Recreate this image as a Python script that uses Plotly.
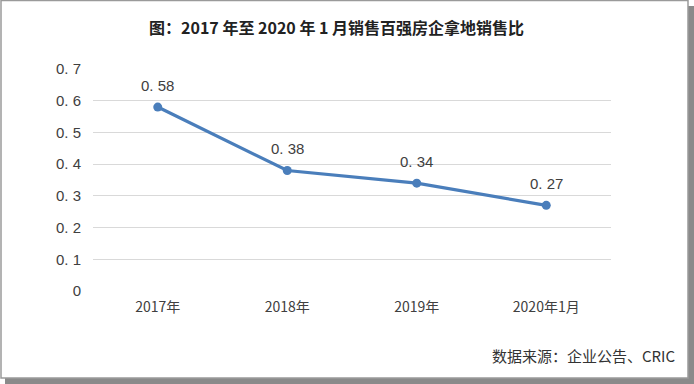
import plotly.graph_objects as go

categories = ["2017年", "2018年", "2019年", "2020年1月"]
values = [0.58, 0.38, 0.34, 0.27]
y_ticks = [0, 0.1, 0.2, 0.3, 0.4, 0.5, 0.6, 0.7]
y_tick_labels = ["0", "0. 1", "0. 2", "0. 3", "0. 4", "0. 5", "0. 6", "0. 7"]
label_text = ["0. " + f"{v:.2f}".split(".")[1] for v in values]
title_text = "图：2017 年至 2020 年 1 月销售百强房企拿地销售比"
source_text = "数据来源：企业公告、CRIC"

W, H = 694, 384
L, R, T, B = 93, 83, 69, 93
pw, ph = W - L - R, H - T - B

def px(x):
    return (x - L) / pw

def py(y):
    return (H - B - y) / ph

font_family = "Noto Sans CJK SC, Noto Sans, sans-serif"
num_family = "Liberation Sans, Arial, sans-serif"
blue = "#4a7ebb"

fig = go.Figure()
fig.add_trace(go.Scatter(
    x=categories, y=values, mode="lines+markers",
    line=dict(color=blue, width=3.2),
    marker=dict(color=blue, size=9),
    cliponaxis=False, showlegend=False, hoverinfo="skip",
))

annotations = [
    dict(x=c, y=v, text=t, xref="x", yref="y", showarrow=False,
         yshift=22, xanchor="center", yanchor="middle",
         font=dict(size=15, color="#404040", family=num_family))
    for c, v, t in zip(categories, values, label_text)
]
annotations += [
    dict(text="<b>" + title_text + "</b>", xref="paper", yref="paper",
         x=px(336), y=py(27), xanchor="center", yanchor="middle",
         showarrow=False, font=dict(size=16, color="#222222", family=font_family)),
    dict(text=source_text, xref="paper", yref="paper",
         x=px(677), y=py(355), xanchor="right", yanchor="middle",
         showarrow=False, font=dict(size=15, color="#333333", family=font_family)),
]

shapes = [
    dict(type="rect", xref="paper", yref="paper", layer="below",
         x0=px(5), x1=px(694), y0=py(6), y1=py(384),
         fillcolor="#8a8a8a", line=dict(width=0)),
    dict(type="rect", xref="paper", yref="paper", layer="below",
         x0=px(1), x1=px(688), y0=py(0.5), y1=py(378),
         fillcolor="white", line=dict(color="#9a9a9a", width=1.5)),
]

fig.update_layout(
    width=W, height=H,
    margin=dict(l=L, r=R, t=T, b=B),
    paper_bgcolor="white", plot_bgcolor="rgba(0,0,0,0)",
    shapes=shapes,
    annotations=annotations,
    font=dict(family=font_family, color="#404040"),
    xaxis=dict(
        type="category", range=[-0.5, 3.5], showgrid=False, zeroline=False,
        showline=False, ticks="", tickfont=dict(size=14, color="#404040"),
        ticklabelstandoff=6, fixedrange=True,
    ),
    yaxis=dict(
        range=[0, 0.7], tickvals=y_ticks, ticktext=y_tick_labels,
        showgrid=True, gridcolor="#d9d9d9", gridwidth=1, zeroline=False,
        showline=False, ticks="", ticklabelstandoff=11,
        tickfont=dict(size=15, color="#404040", family=num_family),
        fixedrange=True,
    ),
)

fig.write_html(
    "out.html",
    config={"displayModeBar": False},
    post_script="document.body.style.margin='0';document.body.style.overflow='hidden';",
)
